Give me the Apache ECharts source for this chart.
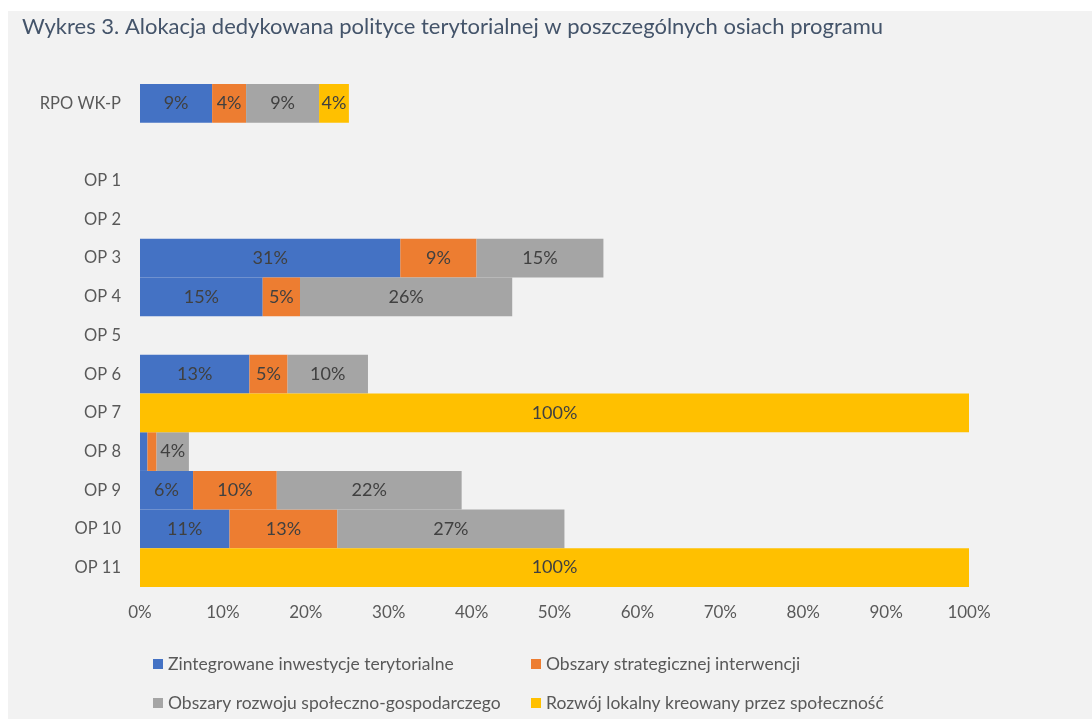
<!DOCTYPE html>
<html lang="pl">

<head>
  <meta charset="UTF-8">
  <title>Wykres 3</title>
  <script src="https://cdn.jsdelivr.net/npm/echarts@6/dist/echarts.min.js"></script>
  <style>
    body { margin: 0; background: #fff; }
    #panel { position: absolute; left: 8px; top: 11px; width: 1084px; height: 708px; background: #f2f2f2; }
    #main { position: absolute; left: 0; top: 0; width: 1092px; height: 719px; }
  </style>
</head>

<body>
  <div id="panel"></div>
  <div id="main"></div>

  <script>
    // kategorie (od góry)
    var categories = ['RPO WK-P', '', 'OP 1', 'OP 2', 'OP 3', 'OP 4', 'OP 5', 'OP 6', 'OP 7', 'OP 8', 'OP 9', 'OP 10', 'OP 11']

    var zit = [8.7, null, null, null, 31.4, 14.8, null, 13.2, null, 0.9, 6.4, 10.8, null]
    var osi = [4.1, null, null, null, 9.2, 4.5, null, 4.6, null, 1.1, 10.1, 13.0, null]
    var orsg = [8.8, null, null, null, 15.3, 25.6, null, 9.7, null, 3.9, 22.3, 27.4, null]
    var rlks = [3.6, null, null, null, null, null, null, null, 100, null, null, null, 100]

    var seriesNames = [
      'Zintegrowane inwestycje terytorialne',
      'Obszary strategicznej interwencji',
      'Obszary rozwoju społeczno-gospodarczego',
      'Rozwój lokalny kreowany przez społeczność'
    ]
    var colors = ['#4472C4', '#ED7D31', '#A5A5A5', '#FFC000']
    var xTicks = [0, 10, 20, 30, 40, 50, 60, 70, 80, 90, 100]

    var font = 'Lato, "Open Sans", sans-serif'
    var es = e => document.querySelector(e)
    var myChart = echarts.init(es('#main'))

    var mkSeries = (name, data, color) => ({
      name: name,
      type: 'bar',
      stack: 'all',
      data: data,
      barCategoryGap: '0%',
      itemStyle: { color: color },
      label: {
        show: true,
        position: 'inside',
        color: '#404040',
        fontSize: 18,
        fontFamily: font,
        formatter: p => (p.value == null || p.value < 2) ? '' : Math.round(p.value) + '%'
      }
    })

    var mkLegend = (i, left, top) => ({
      left: left,
      top: top,
      data: [seriesNames[i]],
      icon: 'rect',
      itemWidth: 10,
      itemHeight: 10,
      itemGap: 5,
      selectedMode: false,
      textStyle: { color: '#595959', fontSize: 17.5, fontFamily: font }
    })

    var option = {
      animation: false,
      color: colors,
      title: {
        text: 'Wykres 3. Alokacja dedykowana polityce terytorialnej w poszczególnych osiach programu',
        left: 17,
        top: 11,
        textStyle: { color: '#44546A', fontSize: 22, fontWeight: 'normal', fontFamily: font }
      },
      legend: [
        mkLegend(0, 148, 650),
        mkLegend(1, 526, 650),
        mkLegend(2, 148, 689),
        mkLegend(3, 526, 689)
      ],
      grid: { left: 140, top: 84, width: 829, height: 503, containLabel: false },
      xAxis: {
        type: 'value',
        min: 0,
        max: 100,
        interval: 10,
        axisLine: { show: false },
        axisTick: { show: false },
        splitLine: { show: false },
        axisLabel: {
          color: '#595959',
          fontSize: 17,
          fontFamily: font,
          margin: 17,
          formatter: v => xTicks.indexOf(v) >= 0 ? v + '%' : ''
        }
      },
      yAxis: {
        type: 'category',
        data: categories,
        inverse: true,
        axisLine: { show: false },
        axisTick: { show: false },
        axisLabel: { color: '#595959', fontSize: 16.5, fontFamily: font, margin: 19 }
      },
      series: [
        mkSeries(seriesNames[0], zit, colors[0]),
        mkSeries(seriesNames[1], osi, colors[1]),
        mkSeries(seriesNames[2], orsg, colors[2]),
        mkSeries(seriesNames[3], rlks, colors[3])
      ]
    }

    myChart.setOption(option)
  </script>
</body>

</html>
